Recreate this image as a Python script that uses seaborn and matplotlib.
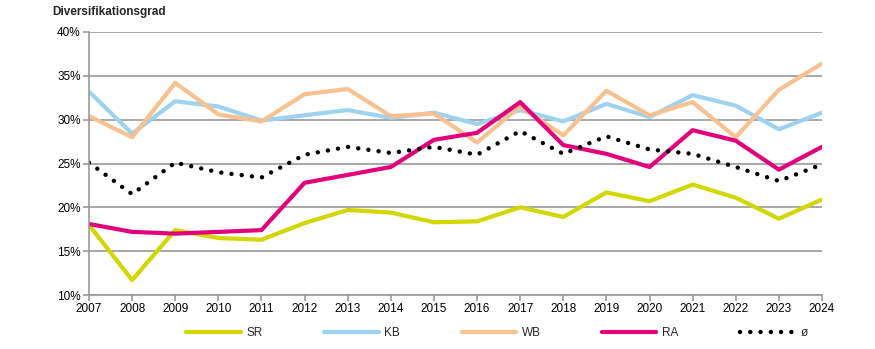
import matplotlib
matplotlib.use("Agg")
import matplotlib.pyplot as plt
import seaborn as sns
import pandas as pd
from matplotlib.ticker import FuncFormatter

years = list(range(2007, 2025))
sr = [18.0, 11.7, 17.4, 16.5, 16.3, 18.2, 19.7, 19.4, 18.3, 18.4, 20.0, 18.9, 21.7, 20.7, 22.6, 21.1, 18.7, 20.9]
kb = [33.2, 28.4, 32.1, 31.5, 29.9, 30.5, 31.1, 30.2, 30.8, 29.5, 31.1, 29.8, 31.8, 30.3, 32.8, 31.6, 28.9, 30.8]
wb = [30.4, 28.0, 34.2, 30.6, 29.8, 32.9, 33.5, 30.4, 30.7, 27.4, 31.5, 28.2, 33.3, 30.5, 32.0, 28.0, 33.4, 36.4]
ra = [18.1, 17.2, 17.0, 17.2, 17.4, 22.8, 23.7, 24.6, 27.7, 28.5, 32.0, 27.1, 26.1, 24.6, 28.8, 27.6, 24.3, 26.9]
avg = [25.1, 21.5, 25.1, 24.0, 23.4, 26.0, 26.9, 26.2, 26.9, 26.0, 28.7, 26.1, 28.1, 26.6, 26.1, 24.6, 23.0, 24.9]
labels = ["SR", "KB", "WB", "RA", "ø"]
colors = ["#d2d700", "#9dd3f0", "#f9c18f", "#e3007b", "#000000"]

sns.set_theme(style="white")
plt.rcParams["font.family"] = ["Liberation Sans", "DejaVu Sans"]

fig = plt.figure(figsize=(8.75, 3.49), dpi=100)
ax = fig.add_axes([89 / 875, 1 - 295 / 349, (822 - 89) / 875, (295 - 32) / 349])

handles = []
for name, vals, col in zip(labels, [sr, kb, wb, ra, avg], colors):
    df = pd.DataFrame({"Jahr": years, "Wert": vals})
    if name == "ø":
        sns.lineplot(data=df, x="Jahr", y="Wert", ax=ax, color=col, linewidth=3.2,
                     linestyle=(0, (0.01, 2.3)), dash_capstyle="round", solid_capstyle="round")
    else:
        sns.lineplot(data=df, x="Jahr", y="Wert", ax=ax, color=col, linewidth=3.0)
    handles.append(ax.lines[-1])

ax.set_xlim(2007, 2024)
ax.set_ylim(10, 40)
ax.set_xticks(years)
ax.set_yticks(range(10, 41, 5))
ax.yaxis.set_major_formatter(FuncFormatter(lambda v, p: f"{int(v)}%"))
ax.set_xlabel("")
ax.set_ylabel("")
ax.grid(axis="y", color="#999999", linewidth=1.2)
ax.set_axisbelow(True)
for s in ["top", "right"]:
    ax.spines[s].set_visible(False)
for s in ["left", "bottom"]:
    ax.spines[s].set_color("#999999")
    ax.spines[s].set_linewidth(1.2)
ax.tick_params(axis="both", which="major", length=4, width=1.2, color="#999999",
               labelsize=8.5, labelcolor="#000000", pad=2, direction="out",
               bottom=True, left=True)

fig.text(52 / 875, 1 - 12 / 349, "Diversifikationsgrad", fontsize=8.5, fontweight="bold",
         va="center", ha="left")

fig.legend(handles, labels, loc="center", bbox_to_anchor=(497 / 875, 1 - 333 / 349), ncol=5,
           frameon=False, fontsize=8.5, handlelength=4.6, columnspacing=5.2, handletextpad=0.5)

fig.savefig("out.png", dpi=100)
